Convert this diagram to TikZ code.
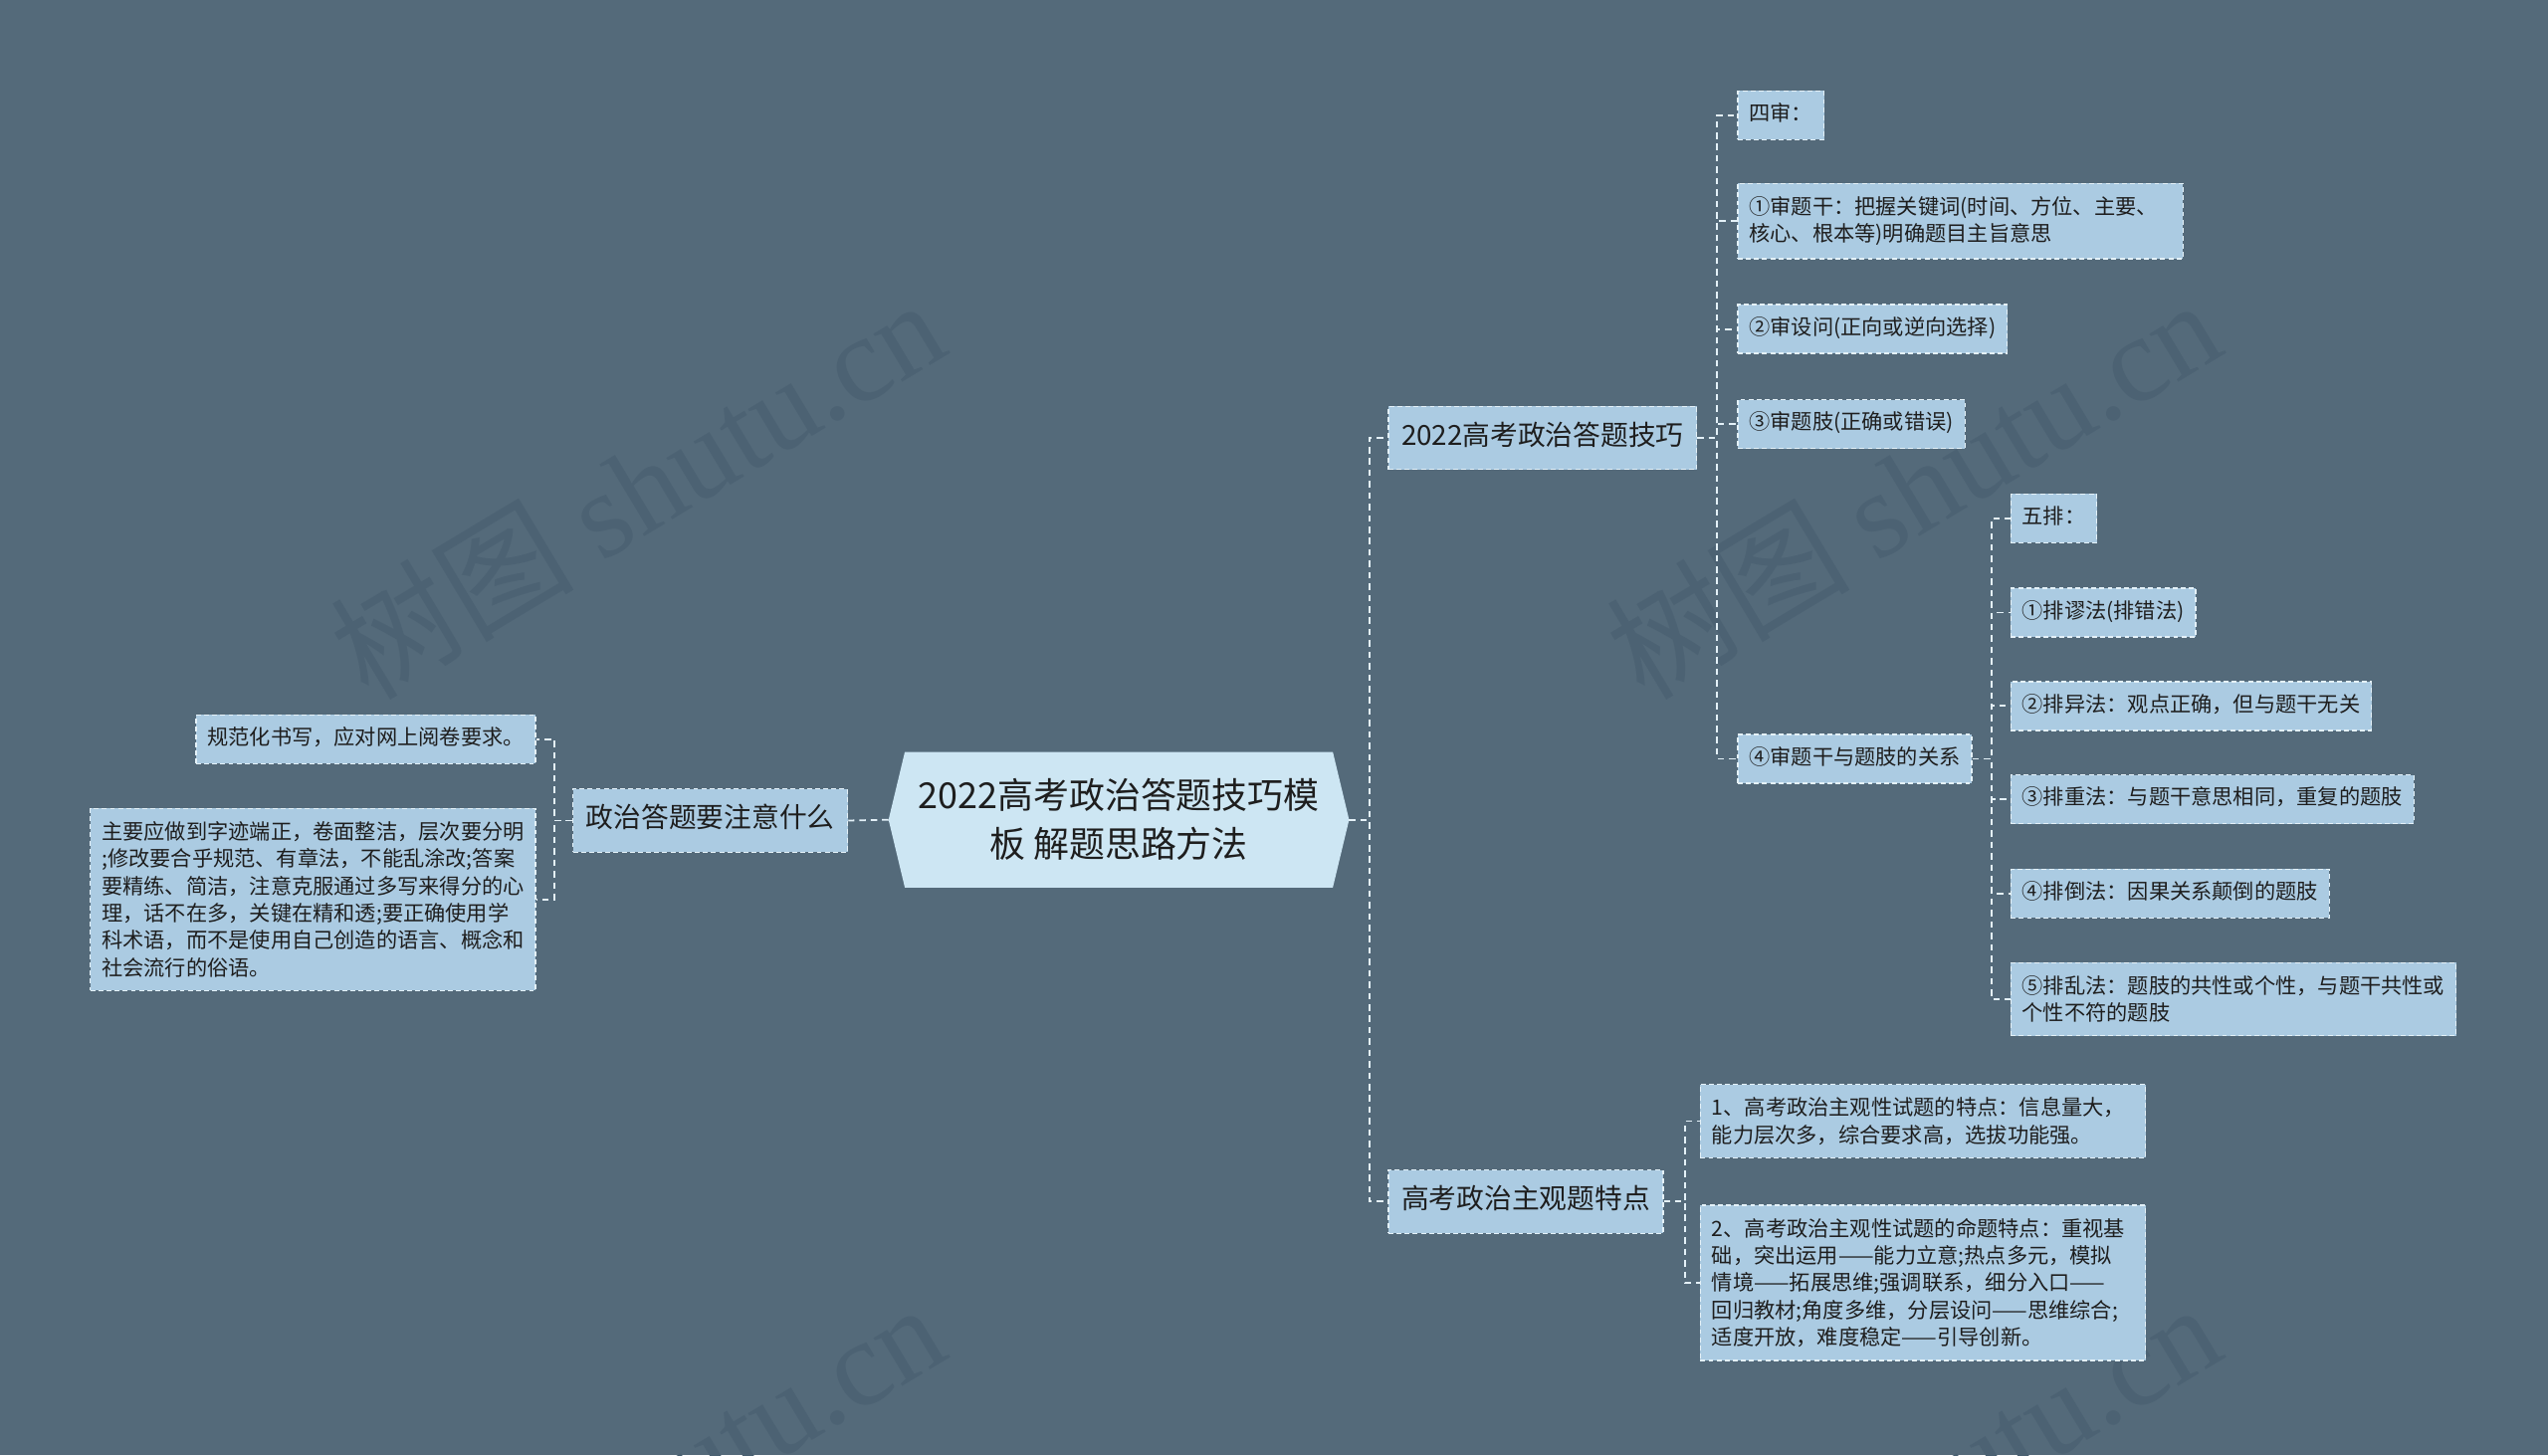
\documentclass[tikz,border=0pt]{standalone}
\usepackage{fontspec}
\setmainfont{Noto Sans CJK SC}
\newfontfamily\wmlatin{Liberation Serif}
\newfontfamily\wmcjk{Noto Sans CJK SC}
\usetikzlibrary{calc}
\definecolor{bgc}{HTML}{546A7A}
\definecolor{wmc}{HTML}{4C6273}
\definecolor{rootc}{HTML}{CDE6F3}
\definecolor{boxc}{HTML}{ABCBE2}
\definecolor{bordc}{HTML}{E4F1F8}
\definecolor{linec}{HTML}{E4F1F8}
\definecolor{txt}{HTML}{1E1E1E}
\tikzset{
  leaf/.style={draw=bordc, dash pattern=on 3pt off 2pt, line width=0.8pt, fill=boxc,
    font=\fontsize{13}{16.8}\selectfont, text=txt, inner xsep=7pt, inner ysep=8.5pt,
    text height=10pt, text depth=3pt},
  leafw/.style={draw=bordc, dash pattern=on 3pt off 2pt, line width=0.8pt, fill=boxc,
    font=\fontsize{13}{16.8}\selectfont, text=txt, inner xsep=7pt, inner ysep=8pt,
    text width=260pt, align=left},
  mid/.style={draw=bordc, dash pattern=on 3pt off 2pt, line width=0.8pt, fill=boxc,
    font=\fontsize{17}{22}\selectfont, text=txt, inner xsep=8pt, inner ysep=11pt,
    text height=13pt, text depth=4pt},
  conn/.style={draw=linec, line width=1.1pt, dash pattern=on 4pt off 3pt},
  wm/.style={text=wmc, rotate=31, font=\fontsize{75}{80}\selectfont}
}
\begin{document}
\begin{tikzpicture}[x=1pt,y=-1pt]
\useasboundingbox (0,0) rectangle (1568,895.5);
\clip (0,0) rectangle (1568,895.5);
\fill[bgc] (0,0) rectangle (1568,895.5);
% watermarks
\node[wm] (wm1) at (392,300) {\wmcjk 树图 \wmlatin shutu.cn};
\node[wm] (wm2) at (1177,300) {\wmcjk 树图 \wmlatin shutu.cn};
\node[wm] (wm3) at (392,918) {\wmcjk 树图 \wmlatin shutu.cn};
\node[wm] (wm4) at (1177,918) {\wmcjk 树图 \wmlatin shutu.cn};
% root
\node[minimum width=283pt, minimum height=83pt, inner sep=0pt, align=center,
  font=\fontsize{22}{30}\selectfont, text=txt] (root) at (688.5,504.5) {};
\fill[rootc] (root.west) -- ([xshift=10pt]root.north west) -- ([xshift=-10pt]root.north east)
  -- (root.east) -- ([xshift=-10pt]root.south east) -- ([xshift=10pt]root.south west) -- cycle;
\node[align=center, font=\fontsize{22}{30}\selectfont, text=txt] (roottext) at (root.center) {2022高考政治答题技巧模\\板 解题思路方法};
% level 1
\node[mid, anchor=west] (n1) at (854,269.5) {2022高考政治答题技巧};
\node[mid, anchor=west] (n2) at (854,739.5) {高考政治主观题特点};
\node[mid, anchor=east] (n3) at (522,505) {政治答题要注意什么};
% left leaves
\node[leaf, anchor=east] (l1) at (330,455) {规范化书写，应对网上阅卷要求。};
\node[leafw, anchor=east] (l2) at (330,553.5) {主要应做到字迹端正，卷面整洁，层次要分明\\;修改要合乎规范、有章法，不能乱涂改;答案\\要精练、简洁，注意克服通过多写来得分的心\\理，话不在多，关键在精和透;要正确使用学\\科术语，而不是使用自己创造的语言、概念和\\社会流行的俗语。};
% four checks
\node[leaf, anchor=west] (a0) at (1069,71) {四审：};
\node[leafw, anchor=west] (a1) at (1069,136) {①审题干：把握关键词(时间、方位、主要、\\核心、根本等)明确题目主旨意思};
\node[leaf, anchor=west] (a2) at (1069,202.5) {②审设问(正向或逆向选择)};
\node[leaf, anchor=west] (a3) at (1069,261) {③审题肢(正确或错误)};
\node[leaf, anchor=west] (a4) at (1069,467) {④审题干与题肢的关系};
% five exclusions
\node[leaf, anchor=west] (b0) at (1237,319) {五排：};
\node[leaf, anchor=west] (b1) at (1237,377) {①排谬法(排错法)};
\node[leaf, anchor=west] (b2) at (1237,434.5) {②排异法：观点正确，但与题干无关};
\node[leaf, anchor=west] (b3) at (1237,492) {③排重法：与题干意思相同，重复的题肢};
\node[leaf, anchor=west] (b4) at (1237,550) {④排倒法：因果关系颠倒的题肢};
\node[leafw, anchor=west] (b5) at (1237,615) {⑤排乱法：题肢的共性或个性，与题干共性或\\个性不符的题肢};
% subjective features
\node[leafw, anchor=west] (c1) at (1046,690) {1、高考政治主观性试题的特点：信息量大，\\能力层次多，综合要求高，选拔功能强。};
\node[leafw, anchor=west] (c2) at (1046,789.5) {2、高考政治主观性试题的命题特点：重视基\\础，突出运用——能力立意;热点多元，模拟\\情境——拓展思维;强调联系，细分入口——\\回归教材;角度多维，分层设问——思维综合;\\适度开放，难度稳定——引导创新。};
% connectors
\draw[conn] (root.east) -- ++(12.5,0) |- (n1.west);
\draw[conn] (root.east) -- ++(12.5,0) |- (n2.west);
\draw[conn] (root.west) -- (n3.east);
\draw[conn] (n3.west) -- ++(-11,0) |- (l1.east);
\draw[conn] (n3.west) -- ++(-11,0) |- (l2.east);
\foreach \k in {a0,a1,a2,a3,a4} {\draw[conn] (n1.east) -- ++(12,0) |- (\k.west);}
\foreach \k in {b0,b1,b2,b3,b4,b5} {\draw[conn] (a4.east) -- ++(12,0) |- (\k.west);}
\foreach \k in {c1,c2} {\draw[conn] (n2.east) -- ++(13,0) |- (\k.west);}
\end{tikzpicture}
\end{document}
